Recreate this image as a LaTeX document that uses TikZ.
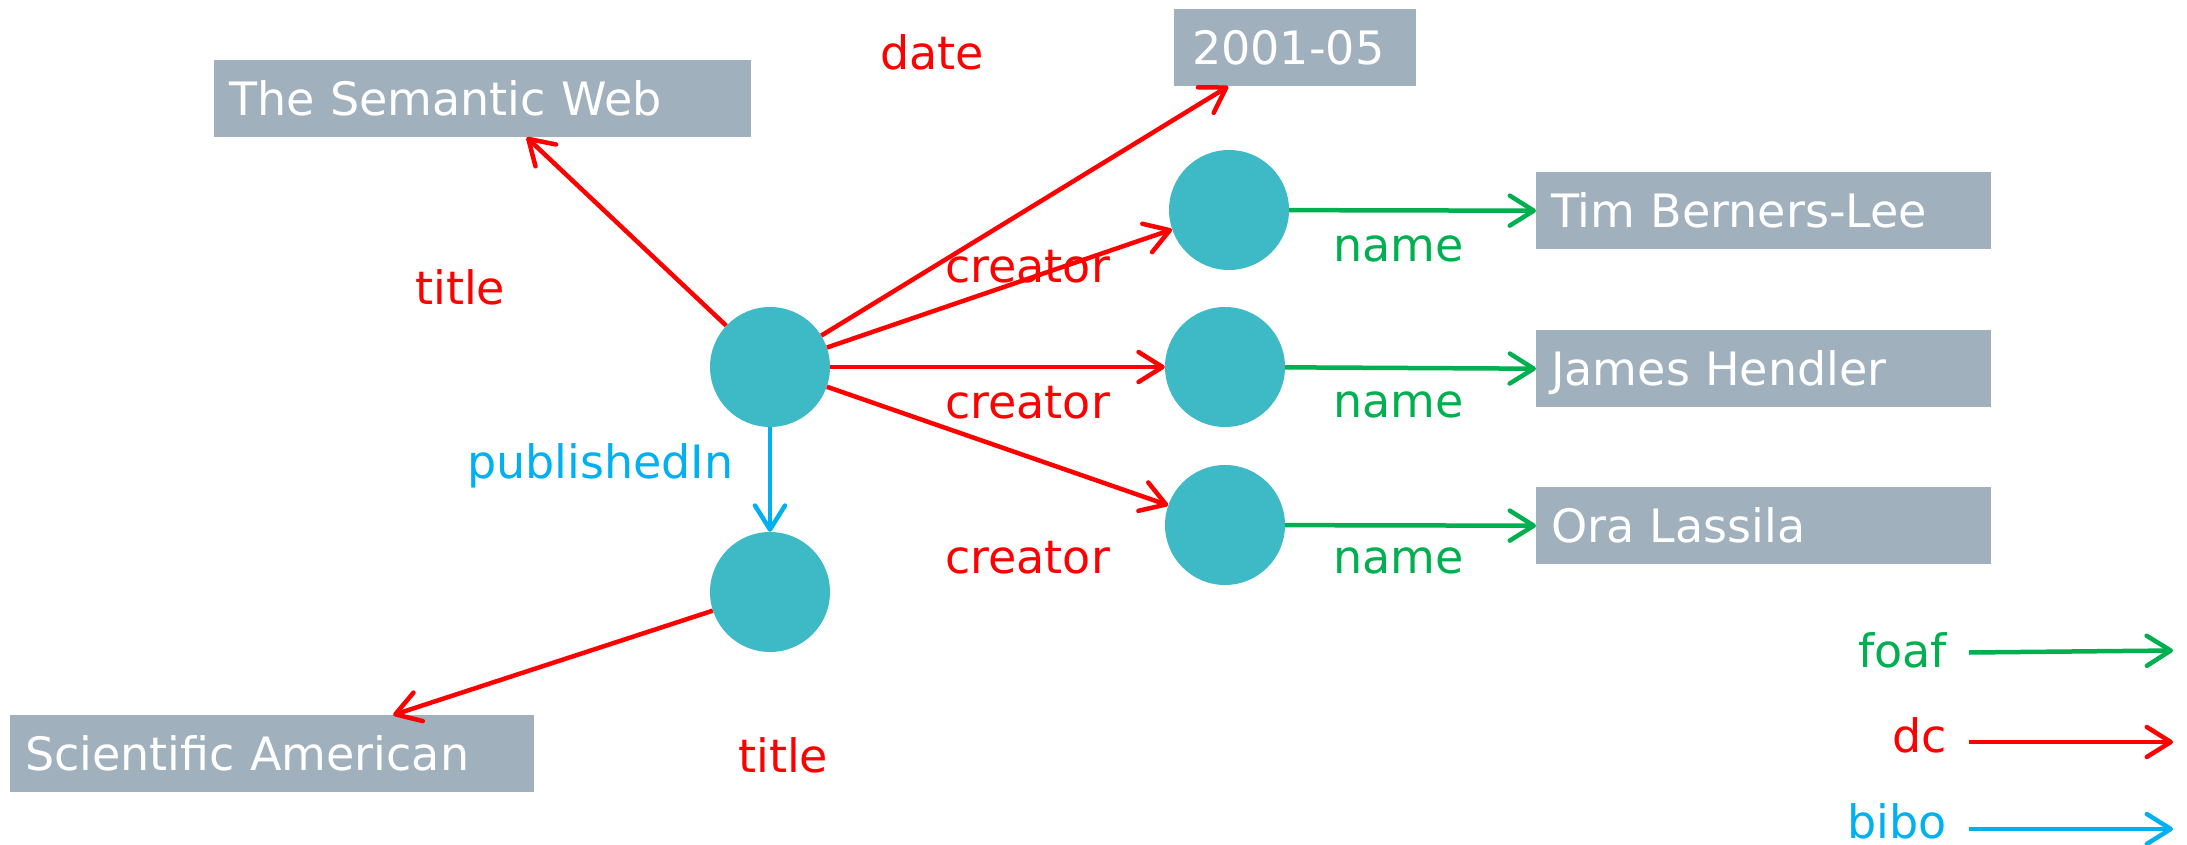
\documentclass[tikz,border=0pt]{standalone}
\usepackage{fontspec}
\setmainfont{DejaVu Sans}
\usetikzlibrary{arrows.meta}

\definecolor{valgray}{RGB}{160,176,189}
\definecolor{resteal}{RGB}{62,185,198}
\definecolor{dcred}{RGB}{255,0,0}
\definecolor{foafgreen}{RGB}{0,176,80}
\definecolor{biboblue}{RGB}{0,176,240}

\tikzset{
  every node/.style={font=\fontsize{46}{54}\selectfont},
  resource/.style={circle, fill=resteal, minimum size=120pt, inner sep=0pt},
  literal/.style={fill=valgray, text=white, anchor=north west, inner xsep=15pt,
    inner ysep=0pt, minimum height=77pt, text height=33pt, text depth=0pt, align=left},
  label/.style={inner sep=0pt, anchor=base west},
  legendlabel/.style={inner sep=0pt, anchor=base east},
  link/.style={line width=4.5pt, -{Straight Barb[length=24pt, width=30pt, round]}},
  dcedge/.style={link, draw=dcred},
  foafedge/.style={link, draw=foafgreen},
  biboedge/.style={link, draw=biboblue},
}

\begin{document}
\begin{tikzpicture}[x=1pt, y=-1pt]
  \useasboundingbox (0,0) rectangle (2187,845);

  % resources
  \node[resource] (paper) at (770,367) {};
  \node[resource] (journal) at (770,592) {};
  \node[resource] (tbl) at (1229,210) {};
  \node[resource] (jh) at (1225,367) {};
  \node[resource] (ol) at (1225,525) {};

  % literal values
  \node[literal, text width=507pt] (semweb) at (214,60) {The Semantic Web};
  \node[literal, text width=206pt, inner xsep=18pt] (date) at (1174,9) {2001-05};
  \node[literal, text width=425pt] (tblname) at (1536,172) {Tim Berners-Lee};
  \node[literal, text width=425pt] (jhname) at (1536,330) {James Hendler};
  \node[literal, text width=425pt] (olname) at (1536,487) {Ora Lassila};
  \node[literal, text width=494pt] (sciam) at (10,715) {Scientific American};

  % dc properties
  \draw[dcedge] (paper) -- ([xshift=44pt]semweb.south);
  \draw[dcedge] (paper) -- ([xshift=-67pt]date.south);
  \draw[dcedge] (paper) -- (tbl);
  \draw[dcedge] (paper) -- (jh);
  \draw[dcedge] (paper) -- (ol);
  \draw[dcedge] (journal) -- ([xshift=121pt]sciam.north);

  % bibo property
  \draw[biboedge] (paper) -- (journal);

  % foaf properties
  \draw[foafedge] (tbl) -- (tblname.west);
  \draw[foafedge] (jh) -- (jhname.west);
  \draw[foafedge] (ol) -- (olname.west);

  % edge labels
  \node[label, text=dcred] (ldate) at (880,70) {date};
  \node[label, text=dcred] (ltitle) at (415,304) {title};
  \node[label, text=dcred] (lcr1) at (945,282) {creator};
  \node[label, text=dcred] (lcr2) at (945,418) {creator};
  \node[label, text=dcred] (lcr3) at (945,573) {creator};
  \node[label, text=biboblue] (lpub) at (467,478) {publishedIn};
  \node[label, text=dcred] (ltitle2) at (738,772) {title};
  \node[label, text=foafgreen] (lname1) at (1333,261) {name};
  \node[label, text=foafgreen] (lname2) at (1333,417) {name};
  \node[label, text=foafgreen] (lname3) at (1333,573) {name};

  % legend
  \node[legendlabel, text=foafgreen] (kfoaf) at (1947,667) {foaf};
  \node[legendlabel, text=dcred] (kdc) at (1947,752) {dc};
  \node[legendlabel, text=biboblue] (kbibo) at (1947,838) {bibo};
  \coordinate (kfoafa) at (1969,652.5);
  \coordinate (kfoafb) at (2173,650.5);
  \coordinate (kdca) at (1969,742);
  \coordinate (kdcb) at (2173,742);
  \coordinate (kriboa) at (1969,829);
  \coordinate (kribob) at (2173,829);
  \draw[foafedge] (kfoafa) -- (kfoafb);
  \draw[dcedge] (kdca) -- (kdcb);
  \draw[biboedge] (kriboa) -- (kribob);
\end{tikzpicture}
\end{document}
